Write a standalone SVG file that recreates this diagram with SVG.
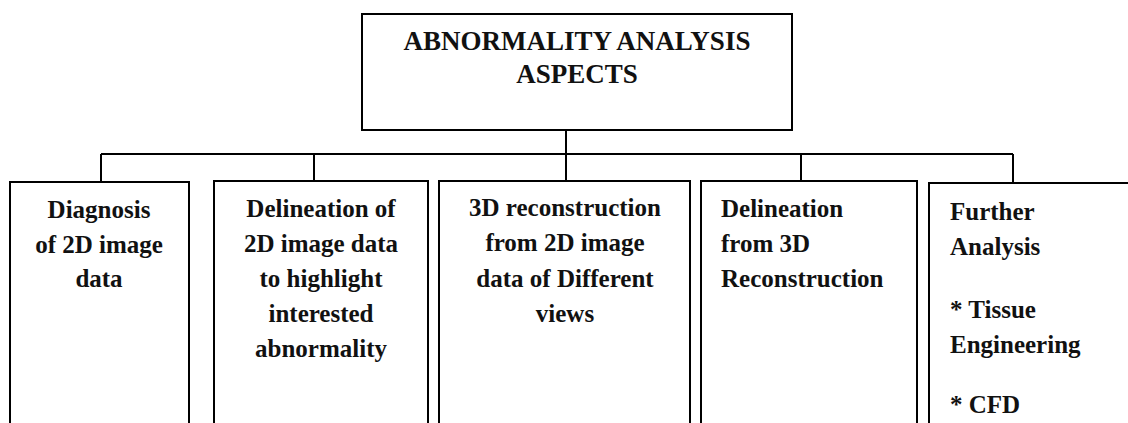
<svg xmlns="http://www.w3.org/2000/svg" width="1128" height="423" viewBox="0 0 1128 423">
<style>
.box{fill:#fff;stroke:#000;stroke-width:2}
.ln{fill:none;stroke:#000;stroke-width:2}
text{font-family:'Liberation Serif',Tinos,'Times New Roman',Times,'DejaVu Serif',serif;font-weight:700;fill:#111}
.t{font-size:27px;text-anchor:middle}
.c{font-size:25px;text-anchor:middle}
.l{font-size:25px}
</style>
<rect width="1128" height="423" fill="#fff"/>
<g id="connectors">
<path class="ln" d="M566 130V181M101 154H1013M101 154V182M314 154V181M801 154V181M1013 154V183"/>
</g>
<g id="root">
<rect class="box" x="362" y="14" width="430" height="116"/>
<text class="t" x="577" y="50">ABNORMALITY ANALYSIS</text>
<text class="t" x="577" y="83">ASPECTS</text>
</g>
<g id="n1">
<rect class="box" x="10" y="182" width="179" height="260"/>
<text class="c" x="99" y="218">Diagnosis</text>
<text class="c" x="99" y="253">of 2D image</text>
<text class="c" x="99" y="287">data</text>
</g>
<g id="n2">
<rect class="box" x="214" y="181" width="214" height="260"/>
<text class="c" x="321" y="217">Delineation of</text>
<text class="c" x="321" y="252">2D image data</text>
<text class="c" x="321" y="287">to highlight</text>
<text class="c" x="321" y="322">interested</text>
<text class="c" x="321" y="357">abnormality</text>
</g>
<g id="n3">
<rect class="box" x="439" y="181" width="251" height="260"/>
<text class="c" x="565" y="216">3D reconstruction</text>
<text class="c" x="565" y="251">from 2D image</text>
<text class="c" x="565" y="287">data of Different</text>
<text class="c" x="565" y="322">views</text>
</g>
<g id="n4">
<rect class="box" x="701" y="181" width="216" height="260"/>
<text class="l" x="721" y="217">Delineation</text>
<text class="l" x="721" y="252">from 3D</text>
<text class="l" x="721" y="287">Reconstruction</text>
</g>
<g id="n5">
<rect class="box" x="929" y="183" width="220" height="260"/>
<text class="l" x="950" y="220">Further</text>
<text class="l" x="950" y="255">Analysis</text>
<text class="l" x="950" y="318">* Tissue</text>
<text class="l" x="950" y="353">Engineering</text>
<text class="l" x="950" y="413">* CFD</text>
</g>
</svg>
